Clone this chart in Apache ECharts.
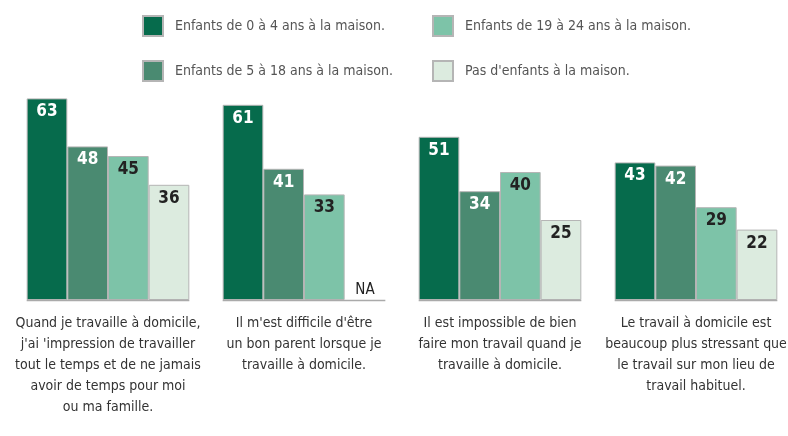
<!DOCTYPE html>
<html lang="fr">
  <head>
    <meta charset="UTF-8" />
    <title>Travail à domicile</title>
    <script src="https://cdn.jsdelivr.net/npm/echarts@6/dist/echarts.min.js"></script>
    <style>
      html, body { margin: 0; padding: 0; background: #fff; }
      #chart { width: 788px; height: 436px; }
    </style>
  </head>
  <body>
    <div id="chart"></div>
    <script>
      var categories = [
        "Quand je travaille à domicile,\nj'ai 'impression de travailler\ntout le temps et de ne jamais\navoir de temps pour moi\nou ma famille.",
        "Il m'est difficile d'être\nun bon parent lorsque je\ntravaille à domicile.",
        "Il est impossible de bien\nfaire mon travail quand je\ntravaille à domicile.",
        "Le travail à domicile est\nbeaucoup plus stressant que\nle travail sur mon lieu de\ntravail habituel."
      ];
      var seriesNames = [
        "Enfants de 0 à 4 ans à la maison.",
        "Enfants de 5 à 18 ans à la maison.",
        "Enfants de 19 à 24 ans à la maison.",
        "Pas d'enfants à la maison."
      ];
      var kids0to4 = [63, 61, 51, 43];
      var kids5to18 = [48, 41, 34, 42];
      var kids19to24 = [45, 33, 40, 29];
      var noKids = [36, null, 25, 22];

      var colors = ["#066b4c", "#4a8a71", "#7dc3a8", "#dcebdf"];
      var labelColors = ["#ffffff", "#ffffff", "#222222", "#222222"];
      var font = "'Liberation Sans Narrow', 'DejaVu Sans Condensed', 'Roboto Condensed', sans-serif";

      var chart = echarts.init(document.getElementById("chart"));

      function barSeries(idx, values) {
        return {
          name: seriesNames[idx],
          type: "bar",
          barGap: "0%",
          barCategoryGap: "17%",
          itemStyle: {
            color: colors[idx],
            borderColor: "#b5b5b5",
            borderWidth: 1
          },
          label: {
            show: true,
            position: "insideTop",
            distance: 5,
            color: labelColors[idx],
            fontFamily: font,
            fontWeight: "bold",
            fontSize: 17
          },
          data: values.map(function (v) {
            if (v === null) {
              // valeur non disponible
              return {
                value: 0,
                itemStyle: { borderWidth: 0 },
                label: {
                  position: "top",
                  distance: 2,
                  formatter: "NA",
                  color: "#222",
                  fontWeight: "normal",
                  fontSize: 15
                }
              };
            }
            return v;
          })
        };
      }

      var legendText = { fontFamily: font, fontSize: 14, color: "#555", padding: [0, 0, 0, 7] };

      var option = {
        animation: false,
        color: colors,
        grid: { left: 10, top: 44, width: 784, height: 256, outerBoundsMode: "none", containLabel: false },
        legend: [
          {
            data: [seriesNames[0], seriesNames[1]],
            orient: "vertical",
            left: 142,
            top: 15,
            padding: 0,
            icon: "rect",
            itemWidth: 20,
            itemHeight: 20,
            itemGap: 23,
            textStyle: legendText
          },
          {
            data: [seriesNames[2], seriesNames[3]],
            orient: "vertical",
            left: 432,
            top: 15,
            padding: 0,
            icon: "rect",
            itemWidth: 20,
            itemHeight: 20,
            itemGap: 23,
            textStyle: legendText
          }
        ],
        xAxis: {
          type: "category",
          data: categories,
          axisLine: { show: false },
          axisTick: { show: false },
          axisLabel: {
            interval: 0,
            margin: 13,
            fontFamily: font,
            fontSize: 14,
            lineHeight: 21,
            color: "#333",
            align: "center"
          }
        },
        yAxis: {
          type: "value",
          min: 0,
          max: 80,
          show: false
        },
        series: [
          barSeries(0, kids0to4),
          barSeries(1, kids5to18),
          barSeries(2, kids19to24),
          barSeries(3, noKids),
          {
            // ligne de base sous chaque groupe
            type: "custom",
            silent: true,
            z: 5,
            data: categories.map(function (c, i) { return i; }),
            renderItem: function (params, api) {
              var p = api.coord([api.value(0), 0]);
              var half = api.size([1, 0])[0] * 0.83 / 2;
              return {
                type: "line",
                shape: { x1: p[0] - half, y1: p[1] + 0.5, x2: p[0] + half, y2: p[1] + 0.5 },
                style: { stroke: "#aaaaaa", lineWidth: 1.5 }
              };
            }
          }
        ]
      };

      chart.setOption(option);
    </script>
  </body>
</html>
